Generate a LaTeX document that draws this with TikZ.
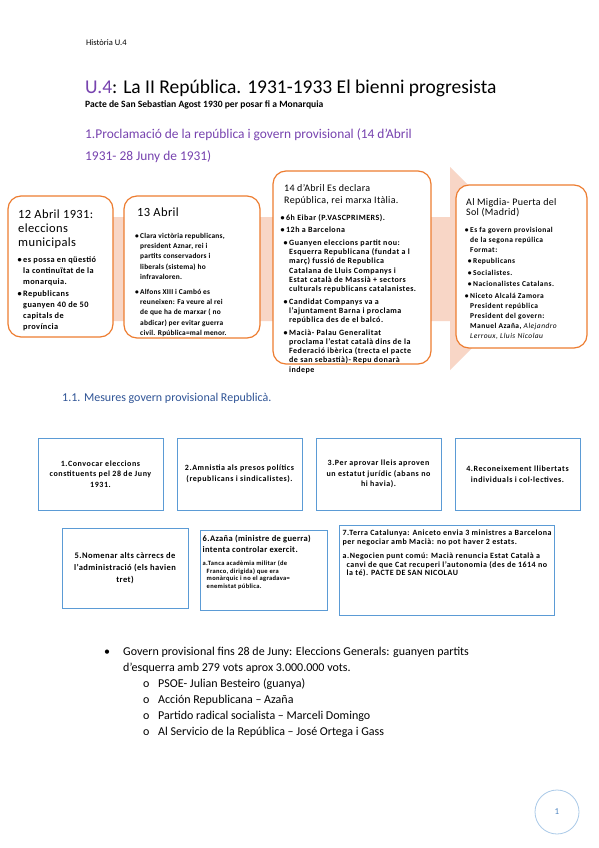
\documentclass[tikz,border=0pt]{standalone}
\usepackage{fontspec}
\setmainfont{Carlito}
\usepackage{tikz}
\usetikzlibrary{positioning}
\definecolor{hsorange}{RGB}{237,125,49}
\definecolor{hspink}{RGB}{248,214,198}
\definecolor{hsblue}{RGB}{91,155,213}
\definecolor{hsnavy}{RGB}{47,84,150}
\definecolor{hspurple}{RGB}{119,67,175}
\definecolor{hspage}{RGB}{170,202,232}
\newcommand{\itm}{\llap{\textbullet\hspace{1.5pt}}}
\newcommand{\tlind}{\hspace*{3pt}}
\newcommand{\lsp}[1]{\addfontfeature{LetterSpace=#1}}

\begin{document}
\begin{tikzpicture}[x=1pt,y=-1pt,
  stage/.style={draw=hsorange,line width=1.2pt,rounded corners=13pt,fill=white,inner sep=0pt},
  stagetxt/.style={anchor=north west,inner sep=0pt,align=left},
  mesura/.style={draw=hsblue,line width=1pt,fill=white,inner sep=2pt,align=center},
  plain/.style={anchor=base west,inner sep=0pt}]
  \fill[white] (0,0) rectangle (599,848);
  \useasboundingbox (0,0) rectangle (599,848);

  % capcalera
  \node[plain,font=\fontsize{8.5}{10}\selectfont] (hdr) at (86,46) {Història U.4};
  \node[plain,font=\fontsize{19.5}{22}\selectfont] (title) at (85,94) {{\color{hspurple}U.4}: La II República. 1931-1933 El bienni progresista};
  \node[plain,font=\bfseries\fontsize{9.6}{11}\selectfont] (pacte) at (85,108) {Pacte de San Sebastian Agost 1930 per posar fi a Monarquia};
  \node[plain,font=\fontsize{13.4}{15}\selectfont,text=hspurple] (sec1) at (85,139) {1.Proclamació de la república i govern provisional (14 d’Abril};
  \node[plain,font=\fontsize{13.4}{15}\selectfont,text=hspurple] (sec1b) at (85,160) {1931- 28 Juny de 1931)};

  % fletxa de fons
  \fill[hspink] (20,217) -- (450,217) -- (450,167) -- (552,268) -- (450,370) -- (450,321) -- (20,321) -- cycle;

  % cronologia
  \node[stage,minimum width=105pt,minimum height=141pt] (d12) at (60.5,266.5) {};
  \node[stage,minimum width=136pt,minimum height=142pt] (d13) at (192,267) {};
  \node[stage,minimum width=158pt,minimum height=193pt] (d14) at (352,267.5) {};
  \node[stage,minimum width=131pt,minimum height=163pt] (migdia) at (521.5,266.5) {};

  \node[stagetxt,font=\fontsize{12.5}{14}\selectfont\lsp{3}] (d12h) at (18,210) {12 Abril 1931:\\eleccions\\municipals};
  \node[stagetxt,font=\bfseries\fontsize{8.3}{11}\selectfont\lsp{5}] (d12b) at (23,256) {\itm es possa en qüestió\\la continuïtat de la\\monarquia.\\[1pt]\itm Republicans\\guanyen 40 de 50\\capitals de\\província};

  \node[stagetxt,font=\fontsize{12.5}{14}\selectfont\lsp{3}] (d13h) at (137,208) {13 Abril};
  \node[stagetxt,font=\bfseries\fontsize{7.4}{10.3}\selectfont\lsp{3}] (d13b) at (140,233) {\itm Clara victòria republicans,\\president Aznar, rei i\\partits conservadors i\\liberals (sistema) ho\\infravaloren.\\[4.5pt]\itm Alfons XIII i Cambó es\\reuneixen: Fa veure al rei\\de que ha de marxar ( no\\abdicar) per evitar guerra\\civil. Rpública=mal menor.};

  \node[stagetxt,font=\fontsize{10}{12}\selectfont\lsp{3}] (d14h) at (284,184) {14 d'Abril Es declara\\República, rei marxa Itàlia.};
  \node[stagetxt,font=\bfseries\fontsize{8}{9.2}\selectfont\lsp{6}] (d14b) at (286,214) {\itm 6h Eibar (P.VASCPRIMERS).\\[3.5pt]\itm 12h a Barcelona\\[3.5pt]\tlind\itm Guanyen eleccions partit nou:\\\tlind Esquerra Republicana (fundat a l\\\tlind març) fussió de Republica\\\tlind Catalana de Lluis Companys i\\\tlind Estat català de Massià + sectors\\\tlind culturals republicans catalanistes.\\[3.5pt]\tlind\itm Candidat Companys va a\\\tlind l'ajuntament Barna i proclama\\\tlind república des de el balcó.\\[3.5pt]\tlind\itm Macià- Palau Generalitat\\\tlind proclama l'estat català dins de la\\\tlind Federació ibèrica (trecta el pacte\\\tlind de san sebastià)- Repu donarà\\\tlind indepe};

  \node[stagetxt,font=\fontsize{10}{10.5}\selectfont\lsp{3}] (migdiah) at (466,198) {Al Migdia- Puerta del\\Sol (Madrid)};
  \node[stagetxt,font=\bfseries\fontsize{7.5}{10}\selectfont\lsp{6}] (migdiab) at (470,227) {\itm Es fa govern provisional\\de la segona repúlica\\Format:\\[1.5pt]\tlind\itm Republicans\\[1.5pt]\tlind\itm Socialistes.\\[1.5pt]\tlind\itm Nacionalistes Catalans.\\[1.5pt]\itm Niceto Alcalá Zamora\\President república\\President del govern:\\Manuel Azaña, {\mdseries\itshape Alejandro}\\{\mdseries\itshape Lerroux, Lluis Nicolau}};

  % mesures
  \node[plain,font=\fontsize{12}{13}\selectfont,text=hsnavy] (sec11) at (62,401) {1.1. Mesures govern provisional Republicà.};

  \node[mesura,minimum width=125pt,minimum height=72pt,font=\bfseries\fontsize{8}{10.5}\selectfont\lsp{7}] (m1) at (100.5,474) {1.Convocar eleccions\\constituents pel 28 de Juny\\1931.};
  \node[mesura,minimum width=125pt,minimum height=72pt,font=\bfseries\fontsize{8}{10.5}\selectfont\lsp{7},right=13pt of m1] (m2) {2.Amnistia als presos polítics\\(republicans i sindicalistes).};
  \node[mesura,minimum width=125pt,minimum height=72pt,font=\bfseries\fontsize{8}{10.5}\selectfont\lsp{7},right=13pt of m2] (m3) {3.Per aprovar lleis aproven\\un estatut jurídic (abans no\\hi havia).};
  \node[mesura,minimum width=125pt,minimum height=72pt,font=\bfseries\fontsize{8}{10.5}\selectfont\lsp{7},right=13pt of m3] (m4) {4.Reconeixement llibertats\\individuals i col·lectives.};

  \node[mesura,minimum width=126pt,minimum height=80pt,font=\bfseries\fontsize{8.5}{12}\selectfont\lsp{5}] (m5) at (125,568) {5.Nomenar alts càrrecs de\\l'administració (els havien\\tret)};
  \node[mesura,minimum width=127pt,minimum height=80pt] (m6) at (263.5,570) {};
  \node[mesura,minimum width=215pt,minimum height=90pt] (m7) at (446.5,570) {};

  \node[stagetxt,font=\bfseries\fontsize{8.5}{11}\selectfont\lsp{4}] (m6h) at ([xshift=3pt,yshift=-5pt]m6.north west) {6.Azaña (ministre de guerra)\\intenta controlar exercit.};
  \node[stagetxt,font=\bfseries\fontsize{6.5}{7.5}\selectfont\lsp{5}] (m6b) at ([xshift=3pt,yshift=-31pt]m6.north west) {a.Tanca acadèmia militar (de\\\hspace*{4pt}Franco, dirigida) que era\\\hspace*{4pt}monàrquic i no el agradava=\\\hspace*{4pt}enemistat pública.};
  \node[stagetxt,font=\bfseries\fontsize{8}{9}\selectfont\lsp{6}] (m7h) at ([xshift=4pt,yshift=-5.5pt]m7.north west) {7.Terra Catalunya: Aniceto envia 3 ministres a Barcelona\\per negociar amb Macià: no pot haver 2 estats.};
  \node[stagetxt,font=\bfseries\fontsize{8}{8.5}\selectfont\lsp{6}] (m7b) at ([xshift=4pt,yshift=-28.5pt]m7.north west) {a.Negocien punt comú: Macià renuncia Estat Català a\\\hspace*{4pt}canvi de que Cat recuperi l'autonomia (des de 1614 no\\\hspace*{4pt}la té). PACTE DE SAN NICOLAU};

  % eleccions
  \node[plain,font=\fontsize{12}{13}\selectfont] (govb) at (104,655) {\textbullet};
  \node[plain,font=\fontsize{12}{13}\selectfont] (gov) at (123,655) {Govern provisional fins 28 de Juny: Eleccions Generals: guanyen partits};
  \node[plain,font=\fontsize{12}{13}\selectfont] (gov2) at (123,671) {d’esquerra amb 279 vots aprox 3.000.000 vots.};
  \foreach \txt [count=\i] in {PSOE- Julian Besteiro (guanya),Acción Republicana – Azaña,Partido radical socialista – Marceli Domingo,Al Servicio de la República – José Ortega i Gass}{
    \node[plain,font=\fontsize{12}{13}\selectfont] (votb\i) at (143,{671+16*\i}) {o};
    \node[plain,font=\fontsize{12}{13}\selectfont] (vot\i) at (158,{671+16*\i}) {\txt};
  }

  % pagina
  \node[circle,draw=hspage,line width=0.8pt,minimum size=44pt,inner sep=0pt,text=hsblue!70!hsnavy,font=\fontsize{9}{9}\selectfont] (pgno) at (557,812) {1};
\end{tikzpicture}
\end{document}
